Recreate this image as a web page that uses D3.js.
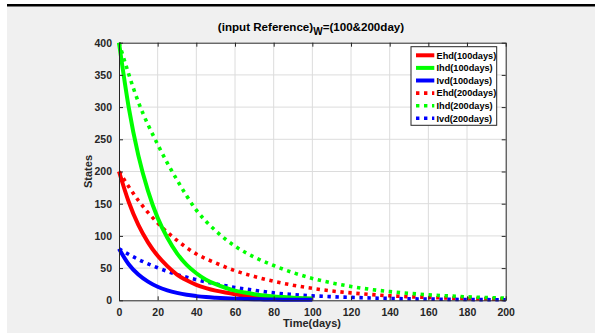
<!DOCTYPE html>
<html><head><meta charset="utf-8">
<script src="https://cdn.jsdelivr.net/npm/d3@7"></script>
<style>body{margin:0;background:#fff;}svg{display:block;}</style>
</head><body>
<script>
// ---- data ----
const t100 = [0,5,10,15,20,25,30,35,40,45,50,55,60,65,70,75,80,85,90,95,100];
const ehd100 = [200,153,117,90,69,53,40,31,24,19,15,12,9.5,7.5,6,5,4.2,3.5,3,2.5,2.2];
const ihd100 = [400,300,225,170,128,97,73,55,42,32,25,19.5,15,12,9.5,7.5,6,5,4,3.3,2.8];
const ivd100 = [80,56,40,29,21,15.5,11.5,8.5,6.5,5,4,3.2,2.6,2.1,1.7,1.4,1.2,1,0.9,0.8,0.7];
const t200 = [0,10,20,30,40,50,60,70,80,90,100,110,120,130,140,150,160,170,180,190,200];
const ehd200 = [200,155,120,93,72,58,46,37,29.5,23.5,18.5,14.5,11.5,9,7,5.6,4.4,3.6,2.9,2.3,1.9];
const ihd200 = [400,308,242,187,140,108,84,67,54,43,34,27,21.5,17,13.5,10.8,8.5,6.8,5.4,4.3,3.4];
const ivd200 = [80,63.5,50.5,40,32,25.5,20,15.5,11.5,9,7,5.6,4.5,3.6,2.9,2.3,1.9,1.5,1.2,1,0.9];
const xTicks = [0,20,40,60,80,100,120,140,160,180,200];
const yTicks = [0,50,100,150,200,250,300,350,400];
const seriesNames = ["Ehd(100days)","Ihd(100days)","Ivd(100days)","Ehd(200days)","Ihd(200days)","Ivd(200days)"];
const seriesColors = ["#ff0000","#00ff00","#0000ff","#ff0000","#00ff00","#0000ff"];

const W = 595, H = 333;
const svg = d3.select("body").append("svg").attr("width", W).attr("height", H);
svg.append("rect").attr("x",0).attr("y",0).attr("width",W).attr("height",H).attr("fill","#fff");
svg.append("rect").attr("x",7).attr("y",5).attr("width",W-7).attr("height",H-5).attr("fill","#f0f0f0");
svg.append("rect").attr("x",7).attr("y",4).attr("width",W-7).attr("height",2.5).attr("fill","#000");

const L = 119, R = 505.7, T = 42.7, B = 300.3;
const x = d3.scaleLinear().domain([0,200]).range([L,R]);
const y = d3.scaleLinear().domain([0,400]).range([B,T]);

svg.append("rect").attr("x",L).attr("y",T).attr("width",R-L).attr("height",B-T).attr("fill","#fff");

// grid
const g = svg.append("g");
g.selectAll("line.gx").data(xTicks.slice(1,-1)).enter().append("line")
  .attr("x1",d=>x(d)).attr("x2",d=>x(d)).attr("y1",T).attr("y2",B)
  .attr("stroke","#dcdcdc").attr("stroke-width",1);
g.selectAll("line.gy").data(yTicks.slice(1,-1)).enter().append("line")
  .attr("y1",d=>y(d)).attr("y2",d=>y(d)).attr("x1",L).attr("x2",R)
  .attr("stroke","#dcdcdc").attr("stroke-width",1);

// lines
const line = d3.line().curve(d3.curveMonotoneX);
function draw(ts, vs, color, dotted) {
  const p = svg.append("path")
    .attr("d", line(ts.map((t,i)=>[x(t), y(vs[i])])))
    .attr("fill","none").attr("stroke",color);
  if (dotted) p.attr("stroke-width",3.6).attr("stroke-dasharray","3.4,4.6");
  else p.attr("stroke-width",4).attr("stroke-linecap","butt");
}
draw(t200, ehd200, seriesColors[3], true);
draw(t200, ihd200, seriesColors[4], true);
draw(t200, ivd200, seriesColors[5], true);
draw(t100, ehd100, seriesColors[0], false);
draw(t100, ihd100, seriesColors[1], false);
draw(t100, ivd100, seriesColors[2], false);

// axes
const axCol = "#262626";
const font = "Liberation Sans, Arial, sans-serif";
const xAxis = svg.append("g").attr("transform",`translate(0,${B})`)
  .call(d3.axisBottom(x).tickValues(xTicks).tickSize(-4).tickPadding(8).tickSizeOuter(0));
const xAxisTop = svg.append("g").attr("transform",`translate(0,${T})`)
  .call(d3.axisTop(x).tickValues(xTicks).tickSize(-4).tickFormat("").tickSizeOuter(0));
const yAxis = svg.append("g").attr("transform",`translate(${L},0)`)
  .call(d3.axisLeft(y).tickValues(yTicks).tickSize(-4).tickPadding(7).tickSizeOuter(0));
const yAxisR = svg.append("g").attr("transform",`translate(${R},0)`)
  .call(d3.axisRight(y).tickValues(yTicks).tickSize(-4).tickFormat("").tickSizeOuter(0));
[xAxis,xAxisTop,yAxis,yAxisR].forEach(a=>{
  a.selectAll("path.domain").attr("stroke",axCol).attr("stroke-width",1);
  a.selectAll(".tick line").attr("stroke",axCol);
  a.selectAll("text").attr("fill",axCol).attr("font-family",font).attr("font-size",10.5).attr("font-weight","bold");
});

// title
const title = svg.append("text").attr("x",311).attr("y",31).attr("text-anchor","middle")
  .attr("font-family",font).attr("font-size",11.6).attr("font-weight","bold").attr("fill","#000");
title.append("tspan").text("(input Reference)");
title.append("tspan").attr("dy",4).attr("font-size",10).text("W");
title.append("tspan").attr("dy",-4).text("=(100&200day)");

svg.append("text").attr("x",312).attr("y",327).attr("text-anchor","middle")
  .attr("font-family",font).attr("font-size",11).attr("font-weight","bold").attr("fill",axCol).text("Time(days)");
svg.append("text").attr("transform",`translate(92,${(T+B)/2}) rotate(-90)`).attr("text-anchor","middle")
  .attr("font-family",font).attr("font-size",11).attr("font-weight","bold").attr("fill",axCol).text("States");

// legend
const lg = svg.append("g");
lg.append("rect").attr("x",411).attr("y",46.7).attr("width",85.7).attr("height",78.6)
  .attr("fill","#fff").attr("stroke","#262626").attr("stroke-width",1);
seriesNames.forEach((nm,i)=>{
  const yy = 55.3 + i*12.6;
  const ln = lg.append("line").attr("x1",416).attr("x2",434.3).attr("y1",yy).attr("y2",yy)
    .attr("stroke",seriesColors[i]);
  if (i>=3) ln.attr("stroke-width",3.6).attr("stroke-dasharray","3.4,4.6");
  else ln.attr("stroke-width",4);
  lg.append("text").attr("x",436.5).attr("y",yy+3.3).attr("font-family",font)
    .attr("font-size",9.2).attr("font-weight","bold").attr("fill","#000").text(nm);
});
</script>
</body></html>
